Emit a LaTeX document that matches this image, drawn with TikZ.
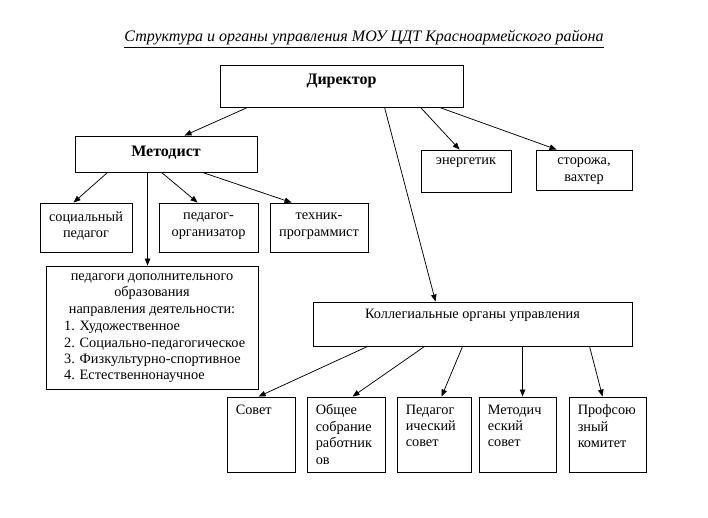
\documentclass[tikz,border=0pt]{standalone}
\usepackage{fontspec}
\setmainfont{Liberation Serif}
\usetikzlibrary{arrows.meta,calc}
\begin{document}
\begin{tikzpicture}[x=1pt,y=-1pt,
  box/.style={draw, line width=0.9pt, inner sep=0pt},
  arr/.style={-{Triangle[length=7pt,width=5.5pt]}, line width=0.75pt},
  txt/.style={font=\fontsize{14.3}{16.4}\selectfont, inner sep=0pt},
  btxt/.style={font=\fontsize{16}{18}\selectfont\bfseries, inner sep=0pt}]
\useasboundingbox (0,0) rectangle (708,518);
% boxes
\node[box, minimum width=243, minimum height=42] (dir) at (341.5,86) {};
\node[box, minimum width=182, minimum height=36] (met) at (166,154) {};
\node[box, minimum width=90, minimum height=42] (energ) at (466,171) {};
\node[box, minimum width=96, minimum height=40] (stor) at (584,170) {};
\node[box, minimum width=92, minimum height=49] (soc) at (86,227.5) {};
\node[box, minimum width=99, minimum height=49] (porg) at (208.5,227.5) {};
\node[box, minimum width=98, minimum height=49] (tech) at (319,227.5) {};
\node[box, minimum width=212, minimum height=123] (pdo) at (152,327.5) {};
\node[box, minimum width=319, minimum height=44] (koll) at (472.5,324) {};
\node[box, minimum width=68, minimum height=75] (sov) at (261,434.5) {};
\node[box, minimum width=78, minimum height=75] (ob) at (346,434.5) {};
\node[box, minimum width=74, minimum height=75] (ped) at (434,434.5) {};
\node[box, minimum width=77, minimum height=75] (metc) at (517.5,434.5) {};
\node[box, minimum width=77, minimum height=75] (prof) at (607.5,434.5) {};
% texts
\node[txt, font=\fontsize{16}{18}\selectfont\itshape] (title) at (364,39) {\underline{Структура и органы управления МОУ ЦДТ Красноармейского района}};
\node[btxt] (tdir) at (341.5,81) {Директор};
\node[btxt] (tmet) at (166,153) {Методист};
\node[txt] (tenerg) at (466,163) {энергетик};
\node[txt, align=center] (tstor) at (584,171) {сторожа,\\вахтер};
\node[txt, align=center] (tsoc) at (86,226) {социальный\\педагог};
\node[txt, align=center] (tporg) at (208.5,226) {педагог-\\организатор};
\node[txt, align=center] (ttech) at (319,226) {техник-\\программист};
\node[txt, align=center] (tpdoA) at (152,295) {педагоги дополнительного\\образования\\направления деятельности:};
\node[txt, align=left, anchor=north west] (tpdoB) at (64,321) {1. Художественное\\2. Социально-педагогическое\\3. Физкультурно-спортивное\\4. Естественнонаучное};
\node[txt] (tkoll) at (472.5,315) {Коллегиальные органы управления};
\node[txt, align=left, anchor=north west] (tsov) at ($(sov.north west)+(9,8)$) {Совет};
\node[txt, align=left, anchor=north west] (tob) at ($(ob.north west)+(9,8)$) {Общее\\собрание\\работник\\ов};
\node[txt, align=left, anchor=north west] (tped) at ($(ped.north west)+(9,8)$) {Педагог\\ический\\совет};
\node[txt, align=left, anchor=north west] (tmetc) at ($(metc.north west)+(9,8)$) {Методич\\еский\\совет};
\node[txt, align=left, anchor=north west] (tprof) at ($(prof.north west)+(9,8)$) {Профсою\\зный\\комитет};
% arrows
\draw[arr] ($(dir.south west)+(28,0)$) -- ($(met.north west)+(110,0)$);
\draw[arr] ($(dir.south west)+(165,0)$) -- ($(koll.north west)+(123,0)$);
\draw[arr] ($(dir.south west)+(201,0)$) -- ($(energ.north west)+(39,0)$);
\draw[arr] ($(dir.south west)+(220,0)$) -- ($(stor.north west)+(21,0)$);
\draw[arr] ($(met.south west)+(33,0)$) -- ($(soc.north west)+(34,0)$);
\draw[arr] ($(met.south west)+(73,0)$) -- ($(pdo.north west)+(102,0)$);
\draw[arr] ($(met.south west)+(87,0)$) -- ($(porg.north west)+(39,0)$);
\draw[arr] ($(met.south west)+(128,0)$) -- ($(tech.north west)+(22,0)$);
\draw[arr] ($(koll.south west)+(55,0)$) -- ($(sov.north west)+(32,0)$);
\draw[arr] ($(koll.south west)+(112,0)$) -- ($(ob.north west)+(46,0)$);
\draw[arr] ($(koll.south west)+(150,0)$) -- ($(ped.north west)+(45,0)$);
\draw[arr] ($(koll.south west)+(210,0)$) -- ($(metc.north west)+(44,0)$);
\draw[arr] ($(koll.south west)+(277,0)$) -- ($(prof.north west)+(34,0)$);
\end{tikzpicture}
\end{document}
